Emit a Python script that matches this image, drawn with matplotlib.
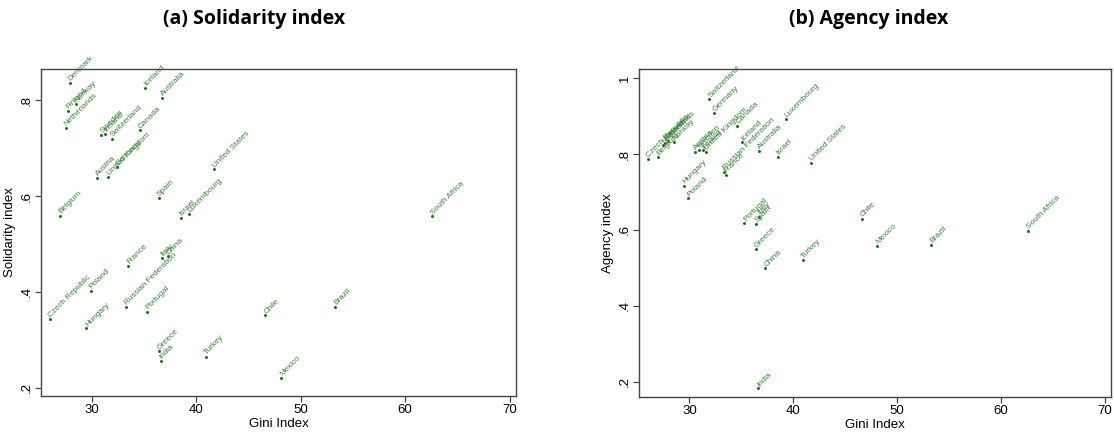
import matplotlib.pyplot as plt
import numpy as np

countries = ['Denmark', 'Finland', 'Norway', 'Netherlands', 'Iceland', 'Australia',
             'Sweden', 'Ireland', 'Switzerland', 'Canada', 'Austria', 'Germany',
             'United Kingdom', 'United States', 'Belgium', 'Spain', 'Israel',
             'Luxembourg', 'France', 'Italy', 'China', 'Czech Republic', 'Poland',
             'Hungary', 'Russian Federation', 'Portugal', 'Greece', 'India', 'Turkey',
             'Chile', 'Mexico', 'Brazil', 'South Africa']
gini = [27.9, 27.7, 28.5, 27.5, 35.1, 36.7,
        30.9, 31.3, 31.9, 34.6, 30.5, 32.4,
        31.6, 41.7, 27.0, 36.4, 38.5,
        39.3, 33.5, 36.7, 37.3, 26.0, 29.9,
        29.5, 33.3, 35.3, 36.4, 36.6, 40.9,
        46.6, 48.1, 53.3, 62.6]
solidarity = [0.836, 0.778, 0.792, 0.742, 0.826, 0.805,
              0.727, 0.730, 0.719, 0.737, 0.638, 0.660,
              0.639, 0.656, 0.559, 0.596, 0.555,
              0.563, 0.454, 0.470, 0.474, 0.344, 0.402,
              0.325, 0.369, 0.359, 0.276, 0.256, 0.265,
              0.351, 0.221, 0.369, 0.558]
agency = [0.835, 0.830, 0.832, 0.823, 0.831, 0.808,
          0.812, 0.810, 0.944, 0.875, 0.806, 0.907,
          0.806, 0.776, 0.791, 0.616, 0.793,
          0.892, 0.745, 0.635, 0.499, 0.786, 0.683,
          0.717, 0.754, 0.618, 0.549, 0.183, 0.521,
          0.629, 0.559, 0.561, 0.598]

dot_col = '#1f6b1f'
lab_col = '#3c7f3c'

fig = plt.figure(figsize=(11.14, 4.36), dpi=100)
ax1 = fig.add_axes([0.0368, 0.0917, 0.4264, 0.75])
ax2 = fig.add_axes([0.5736, 0.0894, 0.4237, 0.7523])


def panel(ax, yvals, ylim, yticks, ylabels, ylab):
    ax.scatter(gini, yvals, s=1.3, color=dot_col, zorder=3)
    for c, x, y in zip(countries, gini, yvals):
        ax.annotate(c, (x, y), xytext=(1.8, 0.2), textcoords='offset points',
                    rotation=45, rotation_mode='anchor', ha='left', va='bottom',
                    fontsize=5.9, color=lab_col, family='Liberation Sans',
                    annotation_clip=False)
    ax.set_xlim(25.15, 70.6)
    ax.set_ylim(*ylim)
    ax.set_xticks([30, 40, 50, 60, 70])
    ax.set_xticklabels(['30', '40', '50', '60', '70'], family='Liberation Sans', fontsize=9.5)
    ax.set_yticks(yticks)
    ax.set_yticklabels(ylabels, rotation=90, va='center', family='Liberation Sans', fontsize=9.5)
    ax.tick_params(direction='out', length=4, width=0.9, color='#444444', pad=2)
    for s in ax.spines.values():
        s.set_color('#444444')
        s.set_linewidth(1.0)
    ax.set_xlabel('Gini Index', family='Liberation Sans', fontsize=9.5, labelpad=1)
    ax.set_ylabel(ylab, family='Liberation Sans', fontsize=9.5, labelpad=3)


panel(ax1, solidarity, (0.183, 0.865), [0.2, 0.4, 0.6, 0.8], ['.2', '.4', '.6', '.8'],
      'Solidarity index')
panel(ax2, agency, (0.160, 1.024), [0.2, 0.4, 0.6, 0.8, 1.0], ['.2', '.4', '.6', '.8', '1'],
      'Agency index')

fig.text(0.228, 0.957, '(a) Solidarity index', ha='center', va='center',
         fontsize=14, fontweight='bold', family='Open Sans')
fig.text(0.780, 0.957, '(b) Agency index', ha='center', va='center',
         fontsize=14, fontweight='bold', family='Open Sans')

fig.savefig('out.png', dpi=100)
